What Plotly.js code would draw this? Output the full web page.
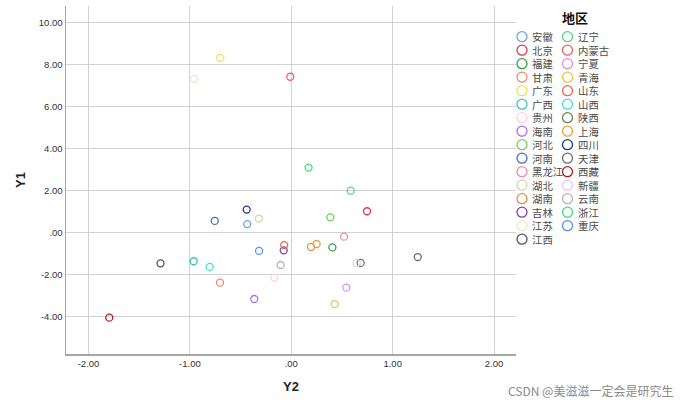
<!DOCTYPE html>
<html>
<head>
<meta charset="utf-8">
<script src="https://cdn.plot.ly/plotly-3.0.1.min.js"></script>
<style>html,body{margin:0;padding:0;background:#fff;}#chart{width:690px;height:407px;}</style>
</head>
<body>
<div id="chart"></div>
<script>
// Data
const regions = ['安徽','北京','福建','甘肃','广东','广西','贵州','海南','河北','河南','黑龙江','湖北','湖南','吉林','江苏','江西',
                 '辽宁','内蒙古','宁夏','青海','山东','山西','陕西','上海','四川','天津','西藏','新疆','云南','浙江','重庆'];
const y2Values = [-0.434, 0.747, 0.405, -0.703, -0.70, -0.963, -0.168, -0.365, 0.385, -0.755, 0.52, -0.32, 0.194, -0.075, -0.96, -1.29,
                  0.586, -0.07, 0.543, 0.428, -0.01, -0.805, 0.684, 0.25, -0.44, 1.247, -1.795, 0.645, -0.105, 0.17, -0.318];
const y1Values = [0.41, 1.02, -0.70, -2.38, 8.33, -1.36, -2.14, -3.16, 0.73, 0.56, -0.19, 0.67, -0.68, -0.84, 7.33, -1.46,
                  2.00, -0.59, -2.62, -3.40, 7.43, -1.63, -1.44, -0.54, 1.10, -1.16, -4.05, -1.44, -1.54, 3.10, -0.87];
const regionColors = ['#6fa0e8','#d8345a','#3c9a48','#f08a68','#f2e24a','#38c4b4','#fcd0e4','#b06cf0','#70cc5c','#4c6cbc','#f488a8','#dcd4a8','#d8904c','#8040a0','#ece6cc','#505050',
                      '#5cd08c','#e86450','#d890f0','#f0c440','#f06060','#44dcd4','#6c7c5c','#f0a030','#1c3880','#6c6c6c','#b01c1c','#e4c8f8','#b4b4b4','#3ce07c','#5090f0'];
const xTickVals = [-2, -1, 0, 1, 2];
const xTickText = ['-2.00', '-1.00', '.00', '1.00', '2.00'];
const yTickVals = [-4, -2, 0, 2, 4, 6, 8, 10];
const yTickText = ['-4.00', '-2.00', '.00', '2.00', '4.00', '6.00', '8.00', '10.00'];
const legendTitle = '地区';
const watermark = 'CSDN @美滋滋一定会是研究生';

const W = 690, H = 407;
const M = {l: 66, r: 174, t: 6, b: 53};
const plotW = W - M.l - M.r, plotH = H - M.t - M.b;
const px2x = px => (px - M.l) / plotW;
const py2y = py => (H - M.b - py) / plotH;

const traces = regions.map((name, i) => ({
  type: 'scatter', mode: 'markers', name: name,
  x: [y2Values[i]], y: [y1Values[i]],
  marker: {symbol: 'circle-open', size: 7, color: regionColors[i], line: {width: 1.3, color: regionColors[i]}},
  showlegend: false,
  hovertemplate: name + '<br>Y2=%{x}<br>Y1=%{y}<extra></extra>'
}));

// Manual two-column legend (layout decoration)
const shapes = [];
const annotations = [];
const perCol = 16;
const rowTop = 36.7, rowStep = 13.5;
const colX = [522, 567.5];
regions.forEach((name, i) => {
  const col = Math.floor(i / perCol), row = i % perCol;
  const cy = rowTop + row * rowStep;
  shapes.push({type: 'circle', xref: 'paper', yref: 'paper', xsizemode: 'pixel', ysizemode: 'pixel',
    xanchor: px2x(colX[col]), yanchor: py2y(cy), x0: -5, x1: 5, y0: -5, y1: 5,
    line: {color: regionColors[i], width: 1.3}, fillcolor: 'rgba(0,0,0,0)'});
});
[regions.slice(0, perCol), regions.slice(perCol)].forEach((names, col) => {
  const centerY = rowTop + (names.length - 1) / 2 * rowStep;
  annotations.push({xref: 'paper', yref: 'paper', x: px2x(colX[col] + 9), y: py2y(centerY), xanchor: 'left', yanchor: 'middle',
    align: 'left', borderpad: 0, text: names.join('<br>'), showarrow: false,
    font: {family: '"Noto Sans CJK SC", sans-serif', size: 10.4, color: '#4a4a4a'}});
});
annotations.push({xref: 'paper', yref: 'paper', x: px2x(575), y: py2y(18), xanchor: 'center', yanchor: 'middle',
  text: '<b>' + legendTitle + '</b>', showarrow: false, font: {family: '"Noto Sans CJK SC", sans-serif', size: 13, color: '#111'}});
annotations.push({xref: 'paper', yref: 'paper', x: px2x(675), y: py2y(390), xanchor: 'right', yanchor: 'middle',
  text: watermark, showarrow: false, font: {family: '"Noto Sans CJK SC", sans-serif', size: 12, color: '#8a8a8a'}});

const layout = {
  width: W, height: H,
  margin: M,
  paper_bgcolor: '#fff', plot_bgcolor: '#fff',
  showlegend: false,
  font: {family: 'Liberation Sans, Arial, sans-serif', color: '#333'},
  xaxis: {
    range: [-2.222, 2.216], tickvals: xTickVals, ticktext: xTickText,
    showgrid: true, gridcolor: '#d2d2d2', gridwidth: 1, zeroline: false,
    showline: true, linecolor: '#a6a6a6', linewidth: 1.5, ticks: '',
    tickfont: {size: 9.5, color: '#333'},
    title: {text: '<b>Y2</b>', font: {size: 13, color: '#222'}, standoff: 14}
  },
  yaxis: {
    range: [-5.78, 10.80], tickvals: yTickVals, ticktext: yTickText,
    showgrid: true, gridcolor: '#d2d2d2', gridwidth: 1, zeroline: false,
    showline: true, linecolor: '#a6a6a6', linewidth: 1.5, ticks: '',
    tickfont: {size: 9.5, color: '#333'},
    title: {text: '<b>Y1</b>', font: {size: 13, color: '#222'}, standoff: 10}
  },
  shapes: shapes,
  annotations: annotations
};

Plotly.newPlot('chart', traces, layout, {displayModeBar: false, staticPlot: true});
</script>
</body>
</html>
